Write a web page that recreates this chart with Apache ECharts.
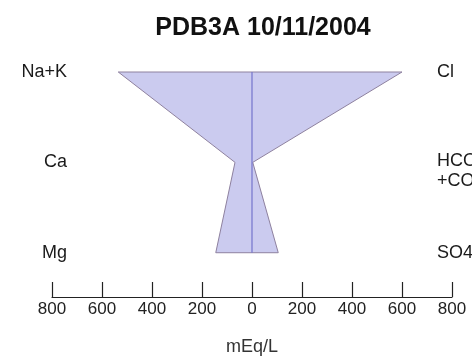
<!DOCTYPE html>
<html>
<head>
<meta charset="utf-8">
<script src="https://cdn.jsdelivr.net/npm/echarts@6/dist/echarts.min.js"></script>
<style>
  html, body { margin: 0; padding: 0; background: #ffffff; }
  #chart { width: 472px; height: 363px; }
</style>
</head>
<body>
<div id="chart"></div>
<script>
// Stiff diagram: cations to the left of zero, anions to the right (mEq/L)
const cationNames = ['Na+K', 'Ca', 'Mg'];
const anionNames = ['Cl', 'HCO3\n+CO3', 'SO4'];
const cationValues = [535, 68, 145];
const anionValues = [600, 3, 105];
const tickValues = [-800, -600, -400, -200, 0, 200, 400, 600, 800];

const FONT = '"Liberation Sans", Arial, Helvetica, sans-serif';
const rows = cationNames.map((_, i) => i);

const chart = echarts.init(document.getElementById('chart'), null, { renderer: 'canvas' });

function renderStiff(params, api) {
  const pts = [];
  rows.forEach(i => pts.push(api.coord([-cationValues[i], i])));
  rows.slice().reverse().forEach(i => pts.push(api.coord([anionValues[i], i])));

  const top = api.coord([0, 0]);
  const bottom = api.coord([0, rows.length - 1]);
  const children = [
    {
      type: 'polygon',
      shape: { points: pts },
      style: { fill: '#cbcbef', stroke: '#8e819f', lineWidth: 1 }
    },
    {
      type: 'line',
      shape: { x1: top[0], y1: top[1], x2: bottom[0], y2: bottom[1] },
      style: { stroke: '#7474cc', lineWidth: 1.2 }
    }
  ];

  const leftEdge = tickValues[0];
  const rightEdge = tickValues[tickValues.length - 1];
  rows.forEach(i => {
    const l = api.coord([leftEdge, i]);
    children.push({
      type: 'text',
      style: {
        x: l[0] + 15, y: l[1], text: cationNames[i],
        align: 'right', verticalAlign: 'middle',
        font: '18px ' + FONT, fill: '#1a1a1a'
      }
    });
    const r = api.coord([rightEdge, i]);
    const multi = anionNames[i].indexOf('\n') >= 0;
    children.push({
      type: 'text',
      style: {
        x: r[0] - 15, y: multi ? r[1] - 11 : r[1], text: anionNames[i],
        align: 'left', verticalAlign: multi ? 'top' : 'middle',
        lineHeight: 20,
        font: '18px ' + FONT, fill: '#1a1a1a'
      }
    });
  });
  return { type: 'group', children };
}

chart.setOption({
  animation: false,
  backgroundColor: '#ffffff',
  title: {
    text: 'PDB3A 10/11/2004',
    left: 258,
    textAlign: 'center',
    top: 11,
    textStyle: { fontFamily: FONT, fontSize: 25, fontWeight: 'bold', color: '#111111' }
  },
  grid: { left: 52, right: 20, top: 72, bottom: 66 },
  xAxis: {
    type: 'value',
    position: 'bottom',
    min: tickValues[0],
    max: tickValues[tickValues.length - 1],
    interval: 200,
    name: 'mEq/L',
    nameLocation: 'middle',
    nameGap: 41,
    nameTextStyle: { fontFamily: FONT, fontSize: 18, color: '#333333' },
    axisLine: { show: true, onZero: false, lineStyle: { color: '#222222', width: 1.2 } },
    axisTick: { show: true, inside: true, length: 15, lineStyle: { color: '#222222', width: 1.2 } },
    axisLabel: {
      margin: 4,
      fontFamily: FONT, fontSize: 17, color: '#222222',
      formatter: v => String(Math.abs(v))
    },
    splitLine: { show: false }
  },
  yAxis: {
    type: 'value',
    inverse: true,
    min: 0,
    max: 2.49,
    show: false
  },
  series: [{
    type: 'custom',
    clip: false,
    renderItem: renderStiff,
    data: [[0, 0]]
  }]
});
</script>
</body>
</html>
